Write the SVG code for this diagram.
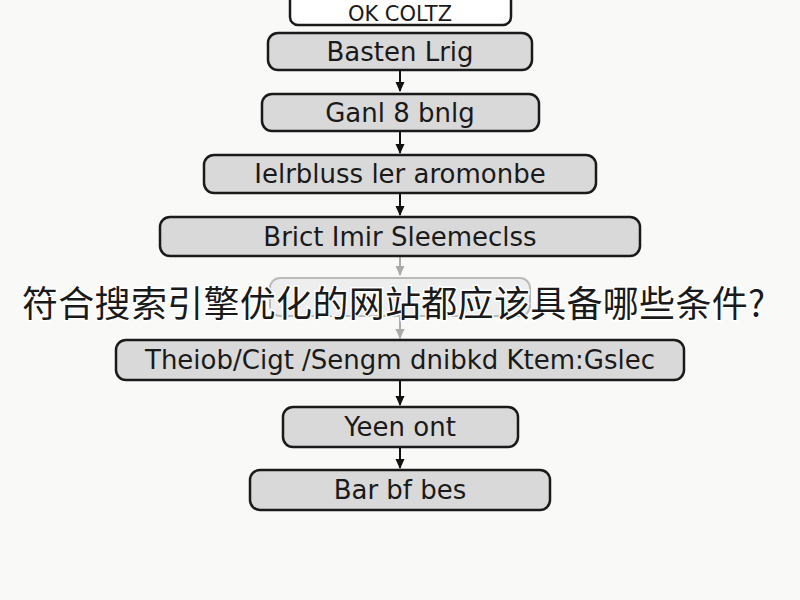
<svg xmlns="http://www.w3.org/2000/svg" width="800" height="600" viewBox="0 0 800 600">
<defs>
<marker id="ah" viewBox="0 0 10 10" refX="9" refY="5" markerWidth="10" markerHeight="11" orient="auto" markerUnits="userSpaceOnUse">
<path d="M0,0.5 L10,5 L0,9.5 z" fill="#111"/>
</marker>
<marker id="ahg" viewBox="0 0 10 10" refX="9" refY="5" markerWidth="10" markerHeight="11" orient="auto" markerUnits="userSpaceOnUse">
<path d="M0,0.5 L10,5 L0,9.5 z" fill="#aaa"/>
</marker>
<style>
.box{fill:#d9d9d9;stroke:#1a1a1a;stroke-width:2.5}
.lbl{font-family:"DejaVu Sans","Liberation Sans",sans-serif;font-size:26px;fill:#1a1a1a;text-anchor:middle}
.con{stroke:#111;stroke-width:2;fill:none}
.cong{stroke:#aaa;stroke-width:2;fill:none}
.title{font-family:"Noto Sans CJK SC","Noto Sans",sans-serif;font-size:36px;letter-spacing:0.3px;fill:#1a1a1a;stroke:#fff;stroke-width:3;paint-order:stroke}
</style>
</defs>
<rect width="800" height="600" fill="#f9f9f8"/>
<g id="connectors">
<line class="con" x1="400" y1="70" x2="400" y2="91" marker-end="url(#ah)"/>
<line class="con" x1="400" y1="131" x2="400" y2="153" marker-end="url(#ah)"/>
<line class="con" x1="400" y1="193" x2="400" y2="215" marker-end="url(#ah)"/>
<line class="cong" x1="400" y1="256" x2="400" y2="275" marker-end="url(#ahg)"/>
<line class="cong" x1="400" y1="316" x2="400" y2="338" marker-end="url(#ahg)"/>
<line class="con" x1="400" y1="380" x2="400" y2="405" marker-end="url(#ah)"/>
<line class="con" x1="400" y1="447" x2="400" y2="468" marker-end="url(#ah)"/>
</g>
<g id="n0">
<rect x="290" y="-12" width="221" height="37" rx="8" fill="#fff" stroke="#1a1a1a" stroke-width="2.5"/>
<text class="lbl" x="400" y="21" style="font-size:21px">OK COLTZ</text>
</g>
<g id="n1">
<rect class="box" x="268" y="33" width="264" height="37" rx="10"/>
<text class="lbl" x="400" y="61">Basten Lrig</text>
</g>
<g id="n2">
<rect class="box" x="262" y="94" width="277" height="37" rx="10"/>
<text class="lbl" x="400" y="122">Ganl 8 bnlg</text>
</g>
<g id="n3">
<rect class="box" x="204" y="155" width="392" height="38" rx="10"/>
<text class="lbl" x="400" y="183">Ielrbluss ler aromonbe</text>
</g>
<g id="n4">
<rect class="box" x="160" y="217" width="480" height="39" rx="10"/>
<text class="lbl" x="400" y="246">Brict Imir Sleemeclss</text>
</g>
<g id="n5">
<rect x="270" y="278" width="260" height="38" rx="10" fill="#eee" stroke="#bbb" stroke-width="2"/>
</g>
<text class="title" x="22" y="317">符合搜索引擎优化的网站都应该具备哪些条件?</text>
<g id="n6">
<rect class="box" x="116" y="340" width="568" height="40" rx="10"/>
<text class="lbl" x="400" y="369">Theiob/Cigt /Sengm dnibkd Ktem:Gslec</text>
</g>
<g id="n7">
<rect class="box" x="283" y="407" width="235" height="40" rx="10"/>
<text class="lbl" x="400" y="436">Yeen ont</text>
</g>
<g id="n8">
<rect class="box" x="250" y="470" width="300" height="40" rx="10"/>
<text class="lbl" x="400" y="499">Bar bf bes</text>
</g>
</svg>
